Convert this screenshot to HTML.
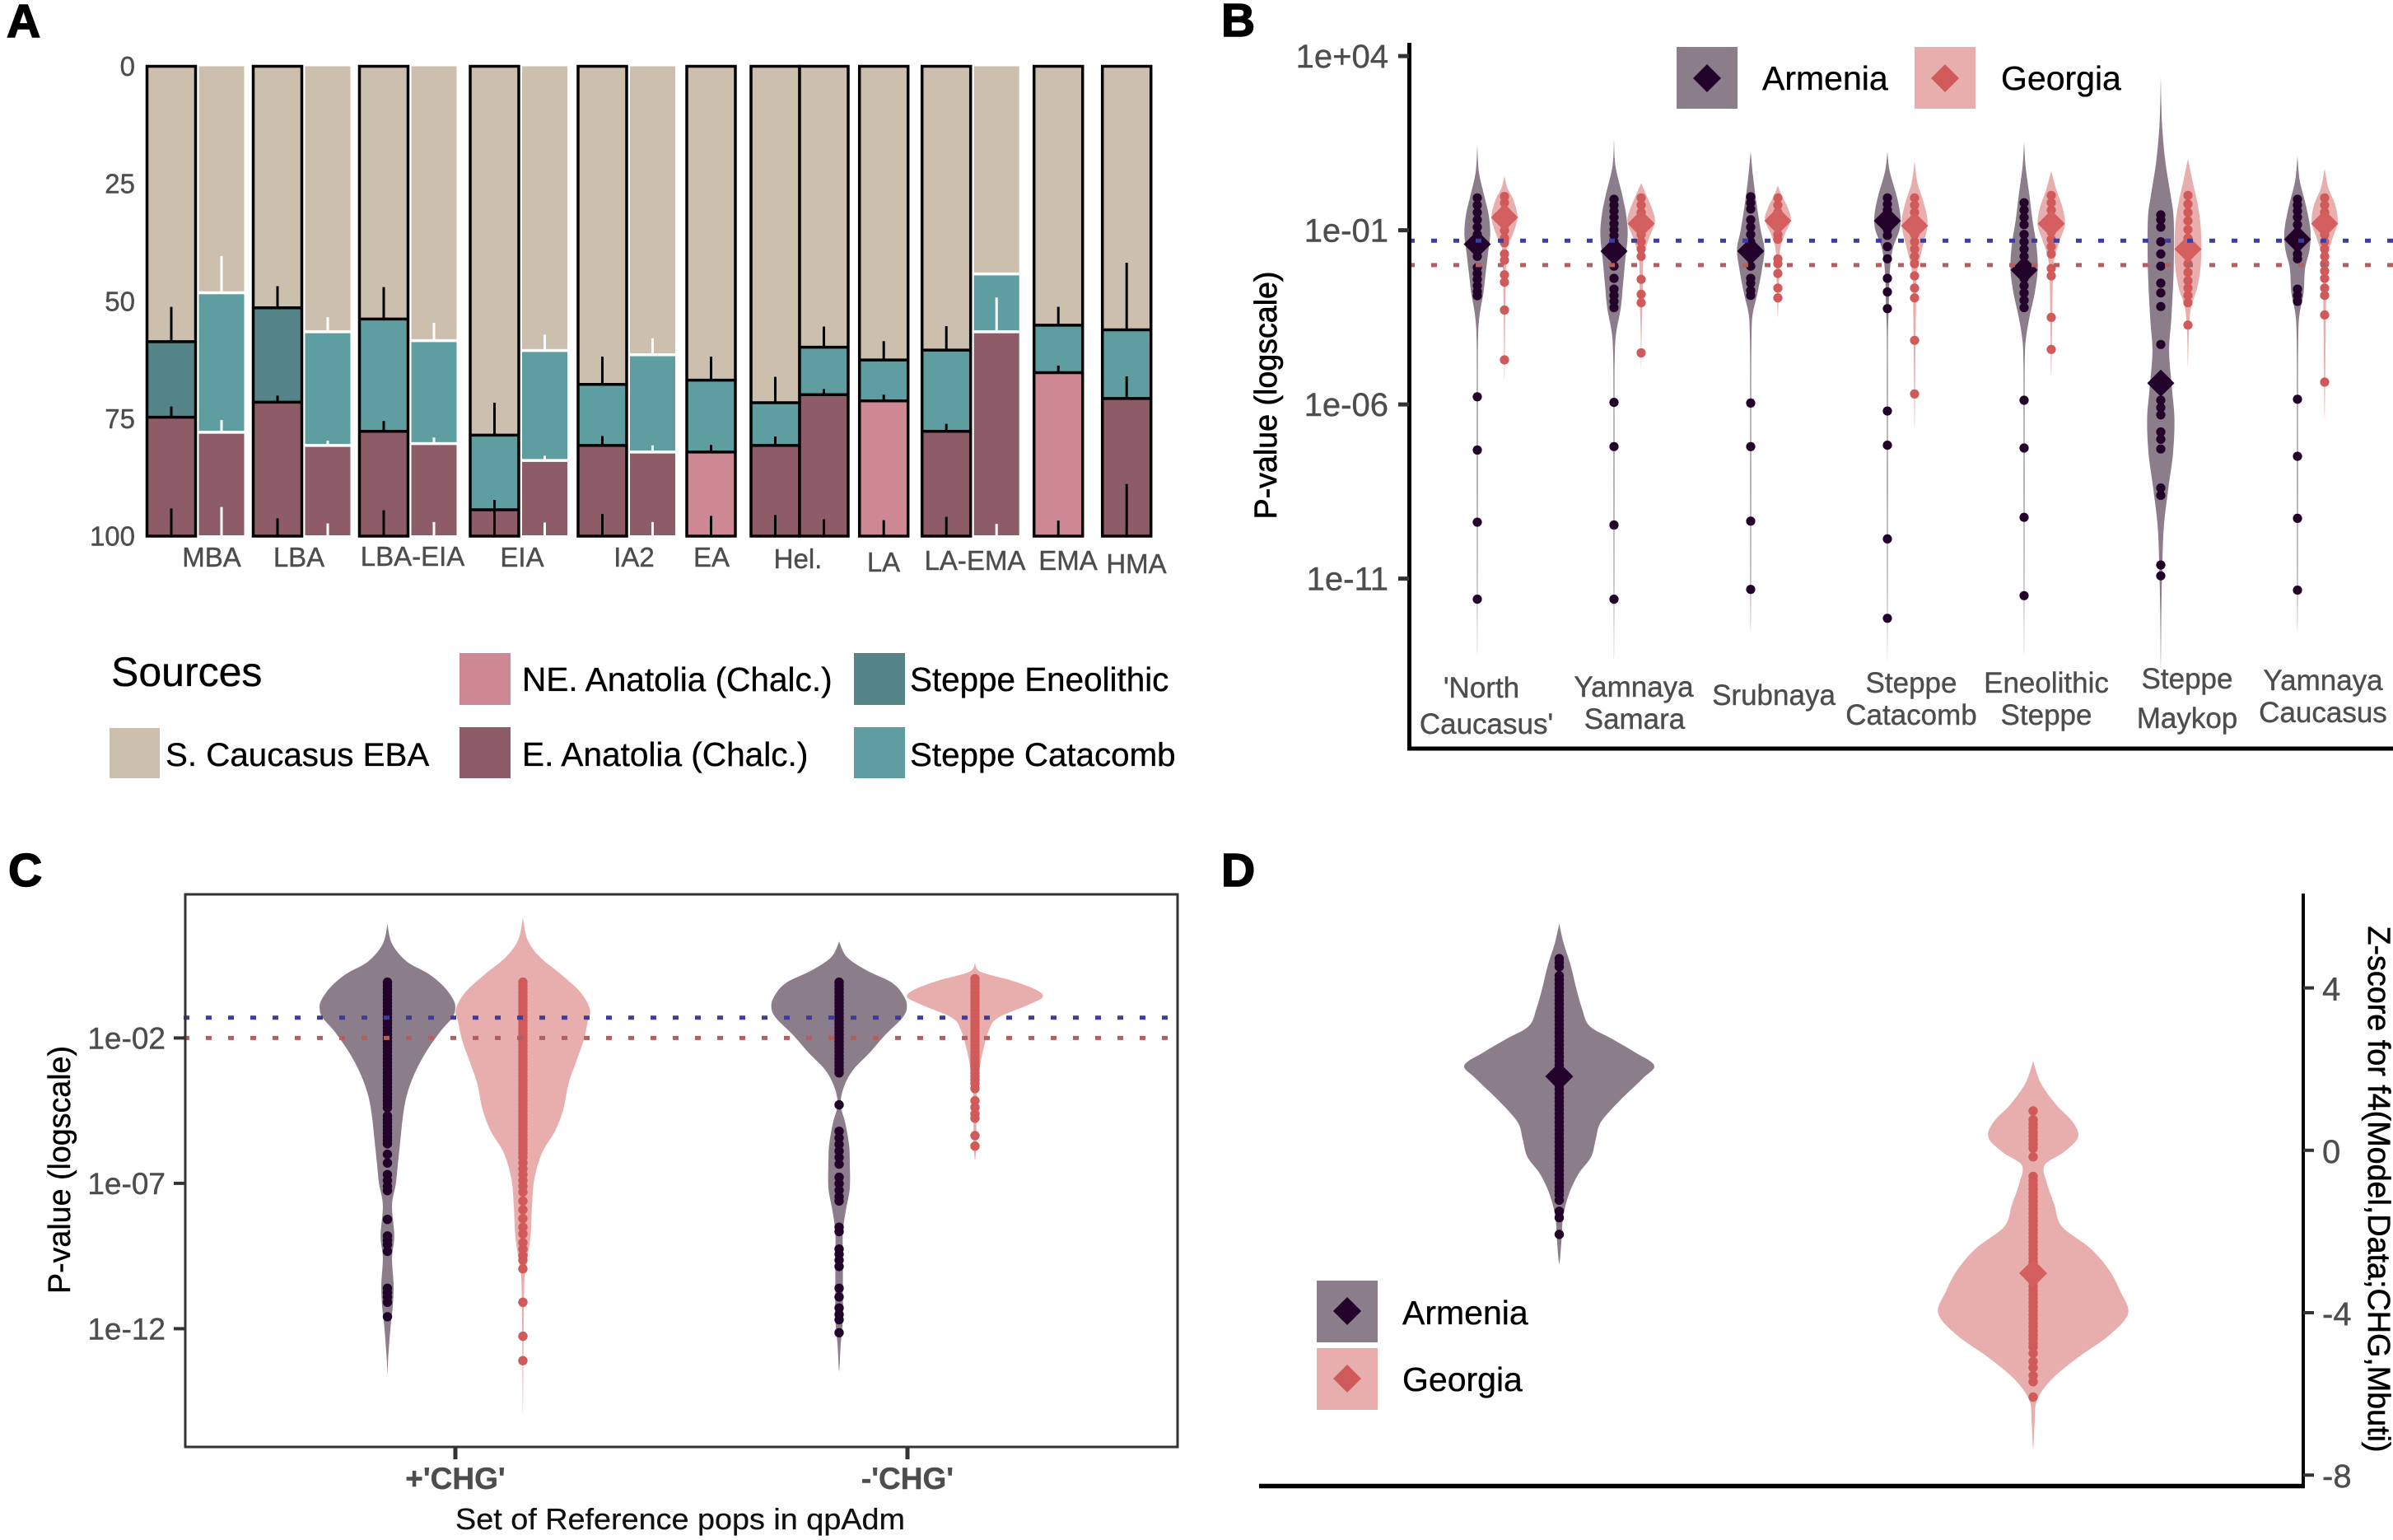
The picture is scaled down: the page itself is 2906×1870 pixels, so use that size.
<!DOCTYPE html>
<html lang="en">
<head>
<meta charset="utf-8">
<title>qpAdm ancestry models for Armenia and Georgia</title>
<style>
html,body{margin:0;padding:0;background:#fff}
svg{display:block;font-family:"Liberation Sans",Arial,sans-serif}
.tick{fill:#4d4d4d;stroke:#4d4d4d;stroke-width:.4px}
.legend{fill:#000;stroke:#000;stroke-width:.35px}
.panel{font-weight:bold;fill:#000;stroke:#000;stroke-width:1.5px;font-size:57px}
</style>
</head>
<body>
<svg id="figure" xmlns="http://www.w3.org/2000/svg" width="2906" height="1870" viewBox="0 0 2906 1870">
  <rect width="2906" height="1870" fill="#fff"/>
  <text class="panel" x="8" y="45">A</text>
  <text class="panel" x="1483" y="44">B</text>
  <text class="panel" x="10" y="1076">C</text>
  <text class="panel" x="1483" y="1076">D</text>

  <g id="panelA"></g>
  <g>
    <text class="legend" x="135" y="833" font-size="50">Sources</text>
    <rect x="133" y="884" width="61" height="61" fill="#cdbfae"/>
    <text class="legend" x="201" y="930" font-size="40.3">S. Caucasus EBA</text>
    <rect x="558" y="793" width="62" height="63" fill="#cd8893"/>
    <text class="legend" x="634" y="839" font-size="40.6">NE. Anatolia (Chalc.)</text>
    <rect x="558" y="883" width="62" height="62" fill="#8e5c66"/>
    <text class="legend" x="634" y="930" font-size="40.6">E. Anatolia (Chalc.)</text>
    <rect x="1037" y="793" width="62" height="63" fill="#558589"/>
    <text class="legend" x="1105" y="839" font-size="40.4">Steppe Eneolithic</text>
    <rect x="1037" y="883" width="62" height="62" fill="#5f9ea0"/>
    <text class="legend" x="1105" y="930" font-size="40.3">Steppe Catacomb</text>
  </g>

  <g id="panelB"></g>
  <g>
    <rect x="2036" y="57" width="74" height="75" fill="#8b7d8a"/>
    <polygon points="2073,78 2090,95 2073,112 2056,95" fill="#23032b"/>
    <text class="legend" x="2140" y="109" font-size="41">Armenia</text>
    <rect x="2325" y="57" width="74" height="75" fill="#e8aeae"/>
    <polygon points="2362,78 2379,95 2362,112 2345,95" fill="#d05a5a"/>
    <text class="legend" x="2430" y="109" font-size="41">Georgia</text>
  </g>

  <g id="panelC"></g>
  <g id="panelD"></g>
  <g>
    <rect x="1599" y="1555" width="74" height="75" fill="#8b7d8a"/>
    <polygon points="1636,1575 1653,1592 1636,1609 1619,1592" fill="#23032b"/>
    <text class="legend" x="1703" y="1608" font-size="41">Armenia</text>
    <rect x="1599" y="1637" width="74" height="75" fill="#e8aeae"/>
    <polygon points="1636,1657 1653,1674 1636,1691 1619,1674" fill="#d05a5a"/>
    <text class="legend" x="1703" y="1689" font-size="41">Georgia</text>
  </g>
</svg>

<script>
/* ---------- Panel A data ---------- */
const aCategories = ['MBA','LBA','LBA-EIA','EIA','IA2','EA','Hel.','LA','LA-EMA','EMA','HMA'];
const aYTicks = [0,25,50,75,100];
const aBarGroup = [0,0,1,1,2,2,3,3,4,4,5,6,6,7,8,8,9,10];
const aBarFramed = [1,0,1,0,1,0,1,0,1,0,1,1,1,1,1,0,1,1];
const aSCaucasusEnd = [58.6,48.2,51.4,56.5,53.8,58.4,78.5,60.5,67.7,61.4,66.8,71.6,59.8,62.5,60.4,44.2,55.1,56.1];
const aSteppeEnd = [74.7,77.9,71.5,80.7,77.7,80.3,94.4,83.9,80.7,82.1,82.1,80.7,69.9,71.2,77.7,56.5,65.2,70.7];
const aSteppeSource = ['Eneolithic','Catacomb','Eneolithic','Catacomb','Catacomb','Catacomb','Catacomb','Catacomb','Catacomb','Catacomb','Catacomb','Catacomb','Catacomb','Catacomb','Catacomb','Catacomb','Catacomb','Catacomb'];
const aAnatoliaSource = ['E','E','E','E','E','E','E','E','E','E','NE','E','E','NE','E','E','NE','E'];
const aErrorFirst = [51.2,40.4,46.8,53.4,47,54.6,71.6,57.1,61.8,57.9,61.8,66.1,55.4,58.5,55.3,null,51.2,41.8];
const aErrorSecond = [72.4,75.3,70.1,79.7,75.5,79,92.3,82.9,78.7,80.7,80.6,78.8,68.7,69.9,76.1,49.2,63.7,66];
const aErrorThird = [94.1,93.8,96.2,97.3,94.5,97,94.4,97.1,95.3,97,95.7,95.5,96.4,96.6,95.9,97.4,96.7,88.9];

/* ---------- Panel B data (log10 p-value, relative density) ---------- */
const bCategories = [["'North","Caucasus'"],["Yamnaya","Samara"],["Srubnaya"],["Steppe","Catacomb"],["Eneolithic","Steppe"],["Steppe","Maykop"],["Yamnaya","Caucasus"]];
const bTickExponents = [4,-1,-6,-11];
const bTickLabels = ['1e+04','1e-01','1e-06','1e-11'];
const bThresholds = [-1.3,-2];
const bArmeniaMedian = [-1.4,-1.6,-1.6,-.73,-2.14,-5.39,-1.26];
const bGeorgiaMedian = [-.63,-.81,-.73,-.87,-.81,-1.54,-.81];
const bArmeniaViolins = [
 [[1.47,0],[.7,2],[0,9],[-.56,15],[-1.12,17],[-1.68,14],[-2.24,11],[-2.8,8],[-3.36,3.5],[-3.92,1.2],[-4.9,.6],[-6.3,.6],[-8.4,.6],[-11.2,.4],[-13.16,0]],
 [[1.61,0],[.84,2],[0,11],[-.56,16],[-1.12,18],[-1.82,15],[-2.52,12],[-3.22,9],[-3.92,3],[-4.48,1.2],[-5.6,.6],[-8.4,.6],[-11.2,.4],[-13.3,0]],
 [[1.26,0],[.56,3],[-.28,8],[-.98,13],[-1.54,18],[-2.1,15],[-2.8,9],[-3.36,3],[-3.92,1.2],[-5.6,.6],[-8.4,.6],[-11.2,.4],[-12.6,0]],
 [[1.26,0],[.7,3],[0,12],[-.56,17],[-.98,16],[-1.54,7],[-2.24,3],[-3.08,2],[-3.92,.8],[-5.6,.6],[-8.4,.6],[-11.2,.4],[-13.44,0]],
 [[1.54,0],[.84,2],[0,7],[-.7,11],[-1.4,16],[-2.1,18],[-2.8,14],[-3.5,7],[-4.2,2],[-4.9,.8],[-6.3,.6],[-8.4,.6],[-11.2,.4],[-13.16,0]],
 [[3.43,0],[2.1,1.5],[.98,6],[0,13],[-.7,17],[-2.1,17],[-3.5,14],[-4.48,11],[-5.6,15],[-6.44,18],[-7.42,16],[-8.4,10],[-9.52,4],[-10.64,2],[-11.9,.8],[-13.58,0]],
 [[1.12,0],[.42,3],[-.28,11],[-.98,17],[-1.54,16],[-2.1,10],[-2.8,8],[-3.36,3],[-3.92,1.2],[-5.6,.6],[-8.4,.6],[-11.2,.4],[-12.6,0]]
];
const bGeorgiaViolins = [
 [[.56,0],[.21,4],[-.14,12],[-.63,17],[-1.12,11],[-1.54,3],[-2.24,2],[-3.08,1.2],[-4.2,.7],[-5.32,0]],
 [[.35,0],[0,7],[-.42,15],[-.77,18],[-1.26,10],[-1.82,3],[-2.8,2],[-3.92,.7],[-5.04,0]],
 [[.28,0],[0,5],[-.35,13],[-.7,17],[-1.12,9],[-1.54,3],[-2.24,2],[-3.08,.8],[-3.5,0]],
 [[.98,0],[.35,4],[-.28,13],[-.84,17],[-1.54,10],[-2.24,3],[-3.08,2],[-4.2,1.2],[-5.6,.7],[-6.72,0]],
 [[.7,0],[.14,7],[-.35,15],[-.84,18],[-1.26,12],[-1.82,4],[-2.52,2],[-3.64,1.2],[-5.18,0]],
 [[1.05,0],[.42,6],[-.28,13],[-.98,17],[-1.96,17],[-2.66,12],[-3.22,4],[-3.92,1.2],[-4.9,0]],
 [[.77,0],[.21,5],[-.28,14],[-.77,17],[-1.26,10],[-1.82,3],[-2.8,2],[-4.2,1.2],[-6.44,0]]
];
const bArmeniaPoints = [
 [-.07,-.28,-.49,-.7,-.91,-1.12,-1.33,-1.54,-1.75,-2.07,-2.24,-2.41,-2.59,-2.76,-2.88,-5.78,-7.31,-9.38,-11.59],
 [-.11,-.28,-.45,-.63,-.81,-.98,-1.15,-1.33,-1.61,-2.03,-2.38,-2.69,-2.87,-3.04,-3.22,-5.94,-7.21,-9.46,-11.59],
 [-.04,-.21,-.39,-.7,-.91,-1.12,-1.33,-1.54,-2.03,-2.38,-2.52,-2.73,-2.87,-5.96,-7.21,-9.35,-11.31],
 [-.07,-.25,-.42,-.63,-.81,-.98,-1.15,-1.47,-1.82,-2.38,-2.77,-3.25,-6.19,-7.17,-9.86,-12.14],
 [-.21,-.42,-.63,-.84,-1.12,-1.33,-1.54,-1.75,-1.96,-2.17,-2.38,-2.59,-2.8,-3.01,-3.22,-5.88,-7.25,-9.24,-11.49],
 [-.56,-.7,-.91,-1.33,-1.68,-2.03,-2.52,-2.8,-3.19,-4.28,-5.88,-6.09,-6.3,-6.79,-7,-7.28,-8.4,-8.61,-10.61,-10.92],
 [-.11,-.28,-.45,-.63,-.84,-1.05,-1.26,-1.47,-1.68,-1.82,-2.69,-2.87,-3.04,-5.85,-7.49,-9.27,-11.33]
];
const bGeorgiaPoints = [
 [-.03,-.21,-.42,-.63,-.84,-1.01,-1.22,-1.36,-1.68,-1.86,-2.28,-2.49,-3.29,-4.72],
 [-.07,-.28,-.49,-.7,-.91,-1.12,-1.33,-1.54,-1.75,-2.41,-2.84,-3.08,-4.52],
 [-.07,-.28,-.49,-.7,-.91,-1.12,-1.26,-1.82,-1.96,-2.24,-2.66,-2.94],
 [-.07,-.28,-.49,-.7,-.91,-1.12,-1.33,-1.54,-1.75,-1.96,-2.31,-2.66,-2.94,-4.16,-5.7],
 [0,-.21,-.42,-.63,-.84,-1.05,-1.26,-1.47,-1.68,-2.1,-2.31,-3.5,-4.42],
 [0,-.25,-.49,-.73,-.98,-1.23,-1.47,-1.71,-1.96,-2.21,-2.45,-2.66,-2.87,-3.08,-3.72],
 [-.07,-.28,-.49,-.7,-.91,-1.12,-1.33,-1.54,-1.75,-1.96,-2.17,-2.38,-2.66,-2.87,-3.43,-5.36]
];

/* ---------- Panel C data ---------- */
const cCategories = ["+'CHG'","-'CHG'"];
const cTickExponents = [-2,-7,-12];
const cTickLabels = ['1e-02','1e-07','1e-12'];
const cThresholds = [-1.3,-2];
const cArmeniaViolins = [
 [[1.92,0],[1.24,6],[.64,25],[.19,55],[-.26,75],[-.71,87],[-1.01,89],[-1.31,85],[-1.76,70],[-2.51,50],[-3.26,35],[-4.01,25],[-4.76,20],[-5.51,17],[-6.26,14],[-7.01,11],[-7.76,6],[-8.81,9],[-9.56,6],[-10.46,8],[-11.21,7],[-11.96,4],[-13.01,1],[-13.54,0]],
 [[1.32,0],[.79,10],[.34,35],[-.11,70],[-.56,85],[-.94,89],[-1.31,83],[-1.91,60],[-2.51,40],[-3.11,18],[-3.71,6],[-4.31,2],[-4.91,8],[-5.66,13],[-6.26,14],[-7.16,14],[-7.91,9],[-8.66,5],[-9.56,5],[-10.76,5],[-11.66,5],[-12.56,2],[-13.46,0]]
];
const cGeorgiaViolins = [
 [[2.14,0],[1.39,6],[.79,22],[.19,50],[-.41,75],[-1.01,88],[-1.46,85],[-2.06,80],[-2.81,70],[-3.56,60],[-4.46,53],[-5.21,42],[-5.96,25],[-6.86,15],[-7.76,12],[-8.81,10],[-9.71,5],[-10.31,2],[-11.51,1.2],[-13.01,.7],[-14.96,0]],
 [[.57,0],[.27,8],[-.04,50],[-.34,80],[-.59,89],[-.86,70],[-1.31,30],[-1.76,18],[-2.51,10],[-3.26,5],[-4.16,2],[-5.36,2],[-5.81,1.5],[-6.19,0]]
];
const cArmeniaPoints = [
 [-.08,-.2,-.32,-.44,-.56,-.68,-.8,-.92,-1.04,-1.16,-1.28,-1.4,-1.52,-1.64,-1.76,-1.88,-2,-2.12,-2.24,-2.36,-2.48,-2.6,-2.72,-2.84,-2.96,-3.08,-3.2,-3.32,-3.44,-3.56,-3.68,-3.8,-3.92,-4.04,-4.16,-4.28,-4.4,-4.68,-4.8,-4.92,-5.04,-5.16,-5.28,-5.4,-5.52,-5.64,-6,-6.3,-6.7,-6.9,-7.1,-7.25,-8.24,-8.81,-8.96,-9.11,-9.34,-10.61,-10.76,-10.91,-11.09,-11.59],
 [-.08,-.2,-.32,-.44,-.56,-.68,-.8,-.92,-1.04,-1.16,-1.28,-1.4,-1.52,-1.64,-1.76,-1.88,-2,-2.12,-2.24,-2.36,-2.48,-2.6,-2.72,-2.84,-2.96,-3.08,-3.2,-4.3,-5.21,-5.44,-5.66,-5.89,-6.11,-6.34,-6.79,-7.01,-7.24,-7.46,-7.61,-8.51,-8.66,-9.26,-9.44,-9.64,-9.86,-10.61,-10.91,-11.29,-11.51,-11.69,-12.14]
];
const cGeorgiaPoints = [
 [-.08,-.2,-.32,-.44,-.56,-.68,-.8,-.92,-1.04,-1.16,-1.28,-1.4,-1.52,-1.64,-1.76,-1.88,-2,-2.12,-2.24,-2.36,-2.48,-2.6,-2.72,-2.84,-2.96,-3.08,-3.2,-3.32,-3.44,-3.56,-3.68,-3.8,-3.92,-4.04,-4.16,-4.28,-4.4,-4.52,-4.64,-4.76,-4.88,-5,-5.12,-5.24,-5.36,-5.48,-5.6,-5.72,-5.84,-5.96,-6.1,-6.3,-6.5,-6.7,-6.9,-7.1,-7.3,-7.61,-7.91,-8.21,-8.51,-8.74,-9.04,-9.26,-9.49,-9.64,-9.94,-11.09,-12.26,-13.1],
 [.04,-.08,-.2,-.32,-.44,-.56,-.68,-.8,-.92,-1.04,-1.16,-1.28,-1.4,-1.52,-1.64,-1.76,-1.88,-2,-2.12,-2.24,-2.36,-2.48,-2.6,-2.72,-2.84,-2.96,-3.08,-3.2,-3.32,-3.44,-3.57,-3.74,-4.16,-4.39,-4.61,-4.76,-5.36,-5.72]
];

/* ---------- Panel D data ---------- */
const dTicks = [4,0,-4,-8];
const dMedians = [1.82,-3.03];
const dArmeniaViolin = [[5.58,0],[5.09,6],[4.56,15],[4.02,22],[3.49,30],[3.06,40],[2.74,70],[2.41,100],[2.09,125],[1.77,110],[1.23,80],[.7,55],[.27,48],[-.16,42],[-.59,25],[-1.12,12],[-1.66,5],[-2.2,3],[-2.79,0]];
const dGeorgiaViolin = [[2.2,0],[1.66,10],[1.13,30],[.7,52],[.32,59],[-.05,40],[-.37,15],[-.8,18],[-1.34,28],[-1.88,38],[-2.41,75],[-2.95,100],[-3.48,115],[-4.02,125],[-4.56,100],[-5.09,60],[-5.63,25],[-6.16,5],[-6.7,2],[-7.35,0]];
const dArmeniaPoints = [4.72,4.62,4.52,4.3,4.2,4.1,4,3.9,3.8,3.7,3.6,3.5,3.4,3.3,3.2,3.1,3,2.9,2.8,2.7,2.6,2.5,2.4,2.3,2.2,2.1,2,1.9,1.8,1.7,1.6,1.5,1.4,1.3,1.2,1.1,1,.9,.8,.7,.6,.5,.4,.3,.2,.1,0,-.1,-.2,-.3,-.4,-.5,-.6,-.7,-.8,-.9,-1,-1.1,-1.23,-1.5,-1.66,-2.07];
const dGeorgiaPoints = [.97,.75,.65,.55,.45,.35,.25,.15,.05,-.16,-.64,-.75,-.85,-.95,-1.05,-1.15,-1.25,-1.35,-1.45,-1.55,-1.65,-1.75,-1.85,-1.95,-2.05,-2.15,-2.25,-2.35,-2.45,-2.55,-2.65,-2.75,-2.85,-2.95,-3.05,-3.15,-3.25,-3.35,-3.45,-3.55,-3.65,-3.75,-3.85,-3.95,-4.05,-4.15,-4.25,-4.35,-4.45,-4.55,-4.65,-4.75,-4.85,-5,-5.2,-5.35,-5.55,-5.7,-6.08];

/* ---------- helpers ---------- */
const NS = 'http://www.w3.org/2000/svg';
const ARM_VIOLIN = '#8b7d8a', GEO_VIOLIN = '#e8aeae', ARM_DOT = '#23032b', GEO_DOT = '#d05a5a';
const LIGHT_GEO_DIAMOND = '#d45f5f';

function mk(tag, attrs, parent){
  const el = document.createElementNS(NS, tag);
  for (const k in attrs) el.setAttribute(k, attrs[k]);
  parent.appendChild(el);
  return el;
}
function line(parent, name, x1, y1, x2, y2, stroke, width, dash){
  const el = mk('line', {x1:x1, y1:y1, x2:x2, y2:y2, stroke:stroke, 'stroke-width':width}, parent);
  if (dash) el.setAttribute('stroke-dasharray', dash);
  
  
  return el;
}
function label(parent, name, str, x, y, size, anchor, cls){
  const el = mk('text', {x:x, y:y, 'font-size':size, 'text-anchor':anchor, class:cls || 'tick'}, parent);
  el.textContent = str;
  
  
  return el;
}
function violin(parent, name, profile, cx, yOf, halfWidth, fill){
  const right = profile.map(p => [cx + halfWidth(p[1]), yOf(p[0])]);
  const left = profile.map(p => [cx - halfWidth(p[1]), yOf(p[0])]).reverse();
  const pts = right.concat(left.slice(1));
  let d = 'M' + pts[0][0].toFixed(1) + ' ' + pts[0][1].toFixed(1);
  for (let i = 0; i < pts.length - 1; i++){
    const p0 = pts[Math.max(0, i-1)], p1 = pts[i], p2 = pts[i+1], p3 = pts[Math.min(pts.length-1, i+2)];
    const c1x = p1[0] + (p2[0]-p0[0])/6, c1y = p1[1] + (p2[1]-p0[1])/6;
    const c2x = p2[0] - (p3[0]-p1[0])/6, c2y = p2[1] - (p3[1]-p1[1])/6;
    d += 'C' + c1x.toFixed(1) + ' ' + c1y.toFixed(1) + ' ' + c2x.toFixed(1) + ' ' + c2y.toFixed(1) + ' ' + p2[0].toFixed(1) + ' ' + p2[1].toFixed(1);
  }
  const el = mk('path', {d:d + 'Z', fill:fill}, parent);
  
  
}
function dots(parent, name, values, cx, yOf, r, fill){
  values.forEach(v => {
    const el = mk('circle', {cx:cx, cy:yOf(v).toFixed(1), r:r, fill:fill}, parent);
    
    
  });
}
function diamond(parent, name, cx, cy, half, fill){
  const el = mk('polygon', {points:[[cx,cy-half],[cx+half,cy],[cx,cy+half],[cx-half,cy]].join(' '), fill:fill}, parent);
  
  
}
function rotatedTitle(parent, name, str, x, y, deg, size, len, weightStroke){
  const el = mk('text', {transform:'translate(' + x + ' ' + y + ') rotate(' + deg + ')', 'text-anchor':'middle', 'font-size':size, fill:'#000', textLength:len, lengthAdjust:'spacingAndGlyphs'}, parent);
  if (weightStroke){ el.setAttribute('stroke', '#000'); el.setAttribute('stroke-width', weightStroke); }
  el.textContent = str;
  
  
}

/* ---------- Panel A ---------- */
(function(){
  const g = document.getElementById('panelA');
  const yA = v => 80.5 + v * 5.705;
  /* band axis: groups of bars with per-group spacing */
  const groupGap = [0,11,11,16.5,13,14,19,13.7,17,18,24];
  const barLeft = (function(){
    const out = [];
    let x = 178.5, prevGroup = 0;
    aBarGroup.forEach((grp, i) => {
      if (i > 0){
        if (grp !== prevGroup) x += groupGap[grp];
        else if (!aBarFramed[i]) x += 4;
      }
      out.push(x);
      x += aBarFramed[i] ? 59 : 55;
      prevGroup = grp;
    });
    return out;
  })();
  const barFill = {S:'#cdbfae', Eneolithic:'#558589', Catacomb:'#5f9ea0', E:'#8e5c66', NE:'#cd8893'};

  aBarGroup.forEach((grp, i) => {
    const framed = aBarFramed[i];
    const x = barLeft[i], w = framed ? 59 : 55;
    const edge = framed ? '#000' : '#fff';
    const top = yA(0), a = yA(aSCaucasusEnd[i]), b = yA(aSteppeEnd[i]), bot = framed ? yA(100) : yA(100) - 1;
    const s1 = mk('rect', {x:x, y:top, width:w, height:a-top, fill:barFill.S}, g);
    
    
    const s2 = mk('rect', {x:x, y:a, width:w, height:b-a, fill:barFill[aSteppeSource[i]]}, g);
    
    
    const s3 = mk('rect', {x:x, y:b, width:w, height:bot-b, fill:barFill[aAnatoliaSource[i]]}, g);
    
    
    const cx = x + w/2;
    if (aErrorFirst[i] !== null) line(g, 'error-bar-s-caucasus', cx, a, cx, yA(aErrorFirst[i]), edge, 3);
    line(g, 'error-bar-steppe', cx, b, cx, yA(aErrorSecond[i]), edge, 3);
    line(g, 'error-bar-anatolia', cx, bot, cx, yA(aErrorThird[i]), edge, 3);
    line(g, 'bar-boundary', x, a, x+w, a, edge, 3.5);
    line(g, 'bar-boundary', x, b, x+w, b, edge, 3.5);
    if (framed){
      const frame = mk('rect', {x:x, y:top, width:w, height:bot-top, fill:'none', stroke:'#000', 'stroke-width':3.5}, g);
      
      
    }
  });
  aYTicks.forEach(t => {
    label(g, 'y-tick-label', String(t), 164, yA(t) + 11.5, 33, 'end');
  });
  const labelX = [257,363,501,634,770,864,969,1073,1184,1297,1380];
  const labelBase = [688,688,687,688,688,688,690,694,692,692,696];
  aCategories.forEach((c, i) => {
    label(g, 'x-tick-label', c, labelX[i], labelBase[i], 33, 'middle');
  });
})();

/* ---------- Panel B ---------- */
(function(){
  const g = document.getElementById('panelB');
  const yB = v => 279.6 - (v + 1) * 42.3;
  const widthB = d => d * 0.9225;
  const armX = i => 1794 + i * 166;
  const geoX = i => 1827 + i * 166;
  bArmeniaViolins.forEach((p, i) => violin(g, 'violin-armenia', p, armX(i), yB, widthB, ARM_VIOLIN));
  bGeorgiaViolins.forEach((p, i) => violin(g, 'violin-georgia', p, geoX(i), yB, widthB, GEO_VIOLIN));
  bArmeniaPoints.forEach((p, i) => dots(g, 'point-armenia', p, armX(i), yB, 5.6, ARM_DOT));
  bGeorgiaPoints.forEach((p, i) => dots(g, 'point-georgia', p, geoX(i), yB, 5.6, GEO_DOT));
  bArmeniaMedian.forEach((m, i) => diamond(g, 'median-armenia', armX(i), yB(m), 16.5, ARM_DOT));
  bGeorgiaMedian.forEach((m, i) => diamond(g, 'median-georgia', geoX(i), yB(m), 16.5, LIGHT_GEO_DIAMOND));
  line(g, 'threshold-line-blue', 1711, yB(bThresholds[0]), 2906, yB(bThresholds[0]), '#3b3ba0', 5, '7 20');
  line(g, 'threshold-line-red', 1711, yB(bThresholds[1]), 2906, yB(bThresholds[1]), '#b06060', 5, '7 20');
  line(g, 'y-axis-line', 1711.5, 52, 1711.5, 911, '#000', 5);
  line(g, 'x-axis-line', 1709, 909, 2906, 909, '#000', 5);
  bTickExponents.forEach((e, i) => {
    line(g, 'y-tick', 1698, yB(e), 1711, yB(e), '#333', 5);
    label(g, 'y-tick-label', bTickLabels[i], 1686, yB(e) + 14, 40, 'end');
  });
  const catX = [[1799,1805],[1984,1985],[2154],[2321,2321],[2485,2485],[2656,2656],[2821,2821]];
  const catBase = [[847,891],[846,885],[856],[841,880],[841,880],[836,884],[838,877]];
  bCategories.forEach((lines, i) => lines.forEach((s, j) => {
    label(g, 'x-tick-label', s, catX[i][j], catBase[i][j], 35, 'middle');
  }));
  rotatedTitle(g, 'y-axis-title', 'P-value (logscale)', 1550, 480, -90, 38, 301, 0.7);
})();

/* ---------- Panel C ---------- */
(function(){
  const g = document.getElementById('panelC');
  const yC = v => 1260.4 - (v + 2) * 35.3;
  const widthC = d => d * 0.925;
  const armX = i => 470.5 + i * 548.5;
  const geoX = i => 635 + i * 549;
  cArmeniaViolins.forEach((p, i) => violin(g, 'violin-armenia', p, armX(i), yC, widthC, ARM_VIOLIN));
  cGeorgiaViolins.forEach((p, i) => violin(g, 'violin-georgia', p, geoX(i), yC, widthC, GEO_VIOLIN));
  cArmeniaPoints.forEach((p, i) => dots(g, 'point-armenia', p, armX(i), yC, 5.7, ARM_DOT));
  cGeorgiaPoints.forEach((p, i) => dots(g, 'point-georgia', p, geoX(i), yC, 5.7, GEO_DOT));
  line(g, 'threshold-line-blue', 223, yC(cThresholds[0]), 1418, yC(cThresholds[0]), '#3b3ba0', 5, '7 20');
  line(g, 'threshold-line-red', 223, yC(cThresholds[1]), 1418, yC(cThresholds[1]), '#b06060', 5, '7 20');
  const box = mk('rect', {x:225, y:1086, width:1205, height:671, fill:'none', stroke:'#333', 'stroke-width':3}, g);
  
  
  cTickExponents.forEach((e, i) => {
    line(g, 'y-tick', 211, yC(e), 225, yC(e), '#333', 4);
    label(g, 'y-tick-label', cTickLabels[i], 201, yC(e) + 13, 37, 'end');
  });
  cCategories.forEach((c, i) => {
    const x = 553 + i * 549;
    line(g, 'x-tick', x, 1757, x, 1772, '#333', 5);
    const t = label(g, 'x-tick-label', c, x, 1808, 37, 'middle');
    t.setAttribute('font-weight', 'bold');
  });
  const xt = mk('text', {x:826, y:1857, 'text-anchor':'middle', 'font-size':36, fill:'#111', stroke:'#111', 'stroke-width':.3, textLength:546, lengthAdjust:'spacingAndGlyphs'}, g);
  xt.textContent = 'Set of Reference pops in qpAdm';
  
  
  rotatedTitle(g, 'y-axis-title', 'P-value (logscale)', 85, 1420.5, -90, 38, 301, 0.4);
})();

/* ---------- Panel D ---------- */
(function(){
  const g = document.getElementById('panelD');
  const yD = v => 1396.8 - v * 49.3;
  const widthD = d => d * 0.9225;
  const xArm = 1893.5, xGeo = 2469;
  violin(g, 'violin-armenia', dArmeniaViolin, xArm, yD, widthD, ARM_VIOLIN);
  violin(g, 'violin-georgia', dGeorgiaViolin, xGeo, yD, widthD, GEO_VIOLIN);
  dots(g, 'point-armenia', dArmeniaPoints, xArm, yD, 5.7, ARM_DOT);
  dots(g, 'point-georgia', dGeorgiaPoints, xGeo, yD, 5.7, GEO_DOT);
  diamond(g, 'median-armenia', xArm, yD(dMedians[0]), 17, ARM_DOT);
  diamond(g, 'median-georgia', xGeo, yD(dMedians[1]), 17, LIGHT_GEO_DIAMOND);
  line(g, 'y-axis-line', 2797, 1085, 2797, 1807, '#000', 4);
  line(g, 'x-axis-line', 1529, 1804.5, 2799, 1804.5, '#000', 5.5);
  dTicks.forEach(t => {
    line(g, 'y-tick', 2797, yD(t), 2810, yD(t), '#333', 4);
    label(g, 'y-tick-label', String(t), 2820, yD(t) + 15, 40, 'start');
  });
  rotatedTitle(g, 'y-axis-title', 'Z-score for f4(Model,Data;CHG,Mbuti)', 2876, 1444, 90, 38, 639, 0.6);
})();
</script>
</body>
</html>
